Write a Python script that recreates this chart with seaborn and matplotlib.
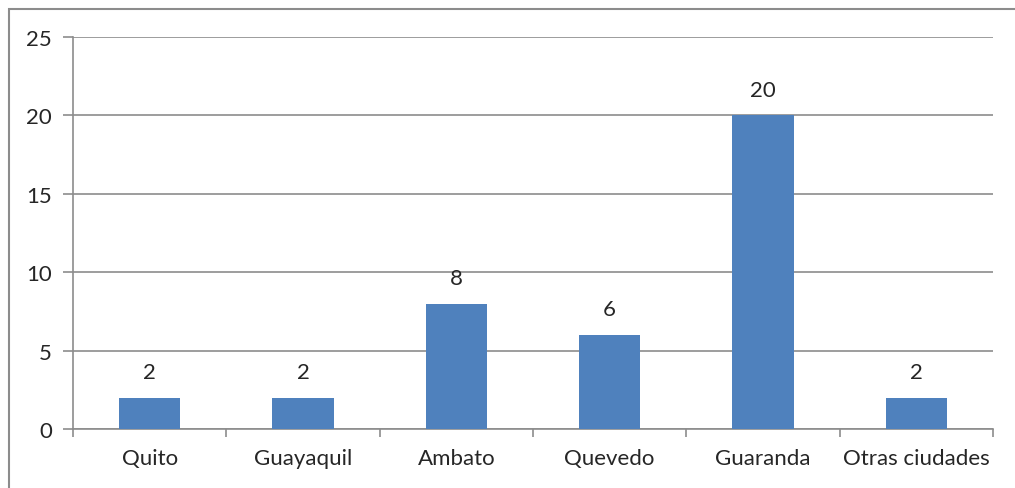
import pandas as pd
import matplotlib.pyplot as plt
import seaborn as sns
from matplotlib.patches import Rectangle

ciudades = ['Quito', 'Guayaquil', 'Ambato', 'Quevedo', 'Guaranda', 'Otras ciudades']
valores = [2, 2, 8, 6, 20, 2]
y_ticks = [0, 5, 10, 15, 20, 25]

df = pd.DataFrame({'Ciudad': ciudades, 'Valor': valores})

sns.set_style('white')
plt.rcParams['font.family'] = ['Lato', 'DejaVu Sans']

fig = plt.figure(figsize=(10.15, 4.89), dpi=100)
ax = fig.add_axes([73 / 1015, 1 - 430 / 489, (993 - 73) / 1015, (430 - 38) / 489])

# outer chart border (only left and top visible in the reference)
fig.patches.append(Rectangle((9 / 1015, -0.1), 1.2, 1 - 10 / 489 + 0.1,
                             transform=fig.transFigure, fill=False,
                             edgecolor='#8c8c8c', linewidth=1.5))

sns.barplot(x='Ciudad', y='Valor', data=df, color='#4F81BD', width=0.4,
            saturation=1, linewidth=0, ax=ax, zorder=3)

for i, v in enumerate(valores):
    ax.text(i, v + 1.0, str(v), ha='center', va='bottom', fontsize=16)

ax.set_ylim(0, 25)
ax.set_xlim(-0.5, len(ciudades) - 0.5)
ax.set_yticks(y_ticks)
ax.set_yticklabels([str(t) for t in y_ticks], fontsize=16)
ax.yaxis.grid(True, color='#8c8c8c', linewidth=1.2, zorder=0)
ax.set_axisbelow(True)

# category boundary ticks on the x axis
ax.set_xticks([i - 0.5 for i in range(len(ciudades) + 1)], minor=False)
ax.set_xticklabels([])
ax.set_xticks(range(len(ciudades)), minor=True)
ax.set_xticklabels(ciudades, minor=True, fontsize=16)
ax.tick_params(axis='x', which='major', length=6, width=1.2, color='#8c8c8c', direction='out', bottom=True)
ax.tick_params(axis='x', which='minor', length=0, pad=14)
ax.tick_params(axis='y', length=7, width=1.2, color='#8c8c8c', direction='out', left=True, pad=8)

ax.set_xlabel('')
ax.set_ylabel('')
for s in ['top', 'right']:
    ax.spines[s].set_visible(False)
for s in ['left', 'bottom']:
    ax.spines[s].set_color('#8c8c8c')
    ax.spines[s].set_linewidth(1.2)

fig.savefig('out.png', dpi=100)
